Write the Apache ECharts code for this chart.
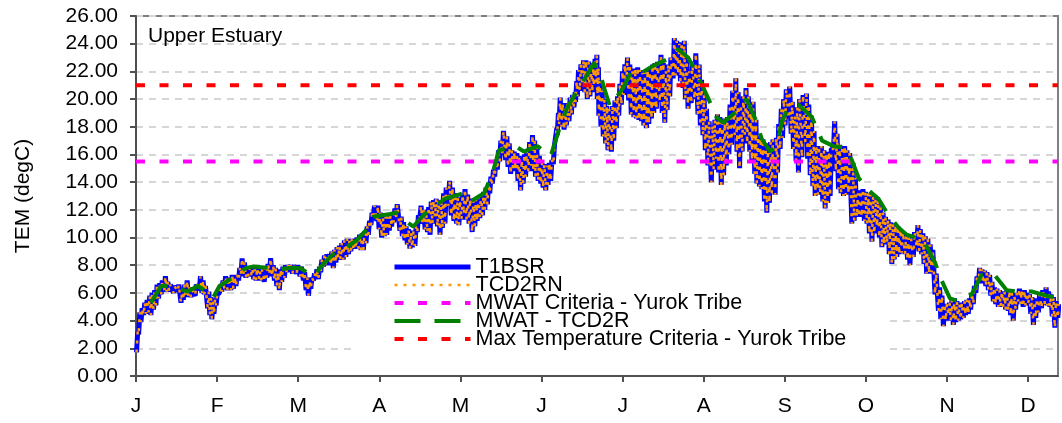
<!DOCTYPE html>
<html><head><meta charset="utf-8">
<script src="https://cdn.jsdelivr.net/npm/echarts@6/dist/echarts.min.js"></script>
<style>html,body{margin:0;padding:0;background:#fff}#c{width:1062px;height:423px}</style>
</head><body><div id="c"></div>
<script>
// x positions are day-of-record (day 0 = Jan 1); ticks every 31 days
const monthLabels = ['J','F','M','A','M','J','J','A','S','O','N','D'];
const yTicks = [0,2,4,6,8,10,12,14,16,18,20,22,24,26];

// sampled days with daily high / low of the hourly temperature band (degC)
const days = [0.2,1.0,1.9,2.9,3.8,4.8,5.7,6.7,7.6,8.6,9.6,10.8,11.7,12.7,14.3,15.9,17.2,18.1,19.1,20.0,21.0,22.6,24.2,25.2,26.1,27.4,28.2,29.0,29.8,30.6,31.9,32.8,33.8,35.0,36.3,37.2,38.2,39.2,40.1,41.0,42.0,43.0,44.0,45.0,45.9,46.9,47.8,49.0,50.0,51.0,52.0,52.9,53.8,54.8,55.7,56.7,57.6,58.6,
59.8,61.4,62.7,64.0,65.0,65.9,66.8,67.8,68.7,69.7,70.6,71.6,72.5,73.5,74.4,75.4,76.4,77.3,78.2,79.2,80.2,81.2,82.1,83.1,84.0,85.0,86.0,86.9,87.9,88.8,89.8,90.7,92.0,92.9,93.9,94.9,95.8,96.8,97.7,98.5,99.4,100.9,101.8,102.8,103.7,104.7,105.6,106.6,107.5,108.5,109.5,110.5,111.4,112.4,113.3,114.3,115.2,116.2,117.1,118.1,
119.4,120.5,121.5,122.5,123.4,124.4,125.3,126.3,127.3,128.5,129.5,130.4,131.4,132.4,133.3,134.3,135.2,136.2,137.1,138.1,139.0,140.0,141.3,142.2,143.2,144.1,145.1,146.0,147.0,148.0,148.9,150.0,151.1,151.9,152.7,153.7,154.7,155.6,156.6,157.5,158.5,159.5,160.4,161.0,161.7,162.6,163.6,164.5,165.5,166.4,167.4,168.0,168.7,169.6,170.6,171.5,172.5,173.5,174.4,175.0,175.7,176.3,176.9,177.7,178.6,
179.5,180.4,181.7,182.6,183.6,184.5,185.5,186.4,187.4,188.3,189.3,190.3,191.3,192.2,193.2,194.1,195.1,196.0,197.0,197.9,198.9,200.2,201.1,202.1,203.0,204.0,205.3,206.2,207.2,208.1,209.1,210.0,211.0,212.2,213.5,214.8,215.7,216.7,217.6,218.6,219.9,220.8,221.8,222.7,223.7,224.6,225.6,226.6,227.6,228.8,229.7,230.7,231.7,232.7,233.6,234.6,235.4,
236.5,237.3,238.3,239.2,240.2,241.1,242.1,243.0,244.3,245.2,246.2,247.1,248.1,249.4,250.4,251.3,252.3,253.2,254.5,255.8,256.7,257.7,258.7,259.6,260.6,261.5,262.5,263.4,264.4,265.3,266.6,267.5,268.5,269.5,270.4,271.3,272.3,273.6,274.5,275.5,276.4,277.4,278.4,279.4,280.3,281.3,282.2,283.2,284.1,285.1,286.0,287.0,287.9,288.9,289.8,290.8,291.7,
292.7,293.9,294.9,295.8,297.1,298.4,299.3,300.3,301.2,302.2,303.1,304.1,305.4,306.7,307.6,308.6,309.5,310.5,311.4,312.4,313.3,314.3,315.2,316.2,317.1,318.1,319.0,320.0,321.0,322.0,322.9,323.9,324.8,325.8,326.7,327.7,328.6,329.6,330.5,331.5,332.4,333.4,334.3,335.3,336.2,337.2,338.1,339.1,340.0,341.0,342.0,343.0,343.9,344.9,346.1,347.4,348.3,349.3,350.2,351.2,352.3];
const hi = [3.2,4.6,4.9,5.3,5.5,5.8,6.0,6.2,6.6,6.7,6.9,7.2,6.8,6.6,6.5,6.6,6.1,6.6,6.9,6.4,6.2,6.6,7.2,6.9,6.5,6.1,5.7,5.4,5.6,5.9,6.5,6.9,7.2,7.1,7.3,7.2,7.3,7.8,8.5,8.2,7.9,7.8,7.8,7.7,7.8,7.6,7.7,7.8,8.1,8.5,8.0,7.8,7.5,7.7,7.9,8.0,8.0,8.0,
8.0,8.0,7.9,7.5,7.1,6.9,7.1,7.4,7.7,7.9,8.4,8.7,8.8,8.8,9.0,9.1,9.3,9.4,9.6,9.8,9.9,9.9,9.9,9.9,10.0,10.2,10.3,10.4,10.8,11.2,11.8,12.3,12.3,11.8,11.4,11.5,11.5,11.6,11.8,12.1,12.4,11.5,11.1,10.8,10.6,10.4,10.5,10.8,11.6,12.3,12.0,11.7,12.2,12.6,12.7,12.8,12.7,12.6,13.2,13.6,
14.1,13.6,13.2,12.9,12.7,13.1,13.5,13.1,12.8,12.7,12.8,12.9,13.1,13.3,13.6,13.9,14.4,14.9,15.6,16.3,17.0,17.7,17.3,16.8,16.3,16.2,16.1,15.9,15.6,16.0,16.3,16.9,17.4,17.0,16.5,15.9,15.4,15.3,15.2,15.4,15.6,16.7,17.9,19.0,20.1,19.7,19.3,19.7,20.1,20.3,20.5,21.3,22.1,22.5,22.8,22.8,22.7,22.6,22.6,22.9,23.2,22.3,21.3,20.6,20.0,
19.5,19.3,19.5,19.9,20.2,21.1,22.0,22.5,23.0,22.5,22.0,22.2,22.3,22.1,21.9,22.0,22.1,22.3,22.5,22.6,22.7,23.2,22.6,22.0,22.5,23.0,24.4,24.2,24.0,24.1,24.2,23.1,22.0,22.7,23.3,22.5,21.4,20.3,19.3,18.4,18.1,18.5,18.9,18.7,18.6,18.6,18.7,19.6,20.6,21.5,20.5,19.6,20.2,20.8,20.2,19.7,19.8,
18.5,17.3,17.2,17.1,16.8,16.6,16.9,17.1,17.2,18.2,19.3,20.0,20.7,20.9,19.8,18.8,19.4,20.0,20.3,20.4,19.6,18.8,17.7,16.6,16.6,16.6,16.3,16.1,16.2,16.4,18.4,17.5,16.7,16.6,16.6,16.3,16.1,15.4,14.3,13.2,13.4,13.5,13.3,13.2,13.1,13.0,12.8,12.7,12.2,11.8,11.5,11.3,11.1,11.0,10.9,10.8,10.6,
10.4,10.1,10.0,9.9,10.4,10.9,10.6,10.3,10.1,9.9,9.5,9.1,7.4,6.4,5.8,5.2,5.2,5.3,5.5,5.6,5.4,5.2,5.3,5.4,5.5,5.6,6.0,6.5,7.2,7.8,7.7,7.6,7.5,7.3,6.8,6.4,6.3,6.2,6.1,6.1,6.2,6.2,6.0,5.8,6.0,6.3,6.2,6.2,6.0,5.9,5.7,5.4,5.6,5.9,6.2,6.4,6.1,5.9,5.7,5.4,5.2];
const lo = [1.7,3.0,3.9,4.4,4.5,4.6,4.4,4.8,5.1,5.6,5.9,6.1,6.1,6.1,6.0,6.1,5.3,5.5,5.7,5.8,5.7,5.8,6.2,6.0,5.9,4.9,4.4,4.1,4.5,5.1,6.0,6.1,6.3,6.2,6.2,6.3,6.5,6.9,7.3,7.2,7.1,7.2,7.3,7.0,6.9,7.0,6.9,6.8,7.1,7.4,7.2,6.9,6.5,6.2,6.8,7.1,7.5,7.7,
7.4,7.4,7.2,6.9,6.2,5.8,6.3,6.9,7.0,7.0,7.5,7.9,8.0,8.2,8.0,7.8,8.2,8.5,8.4,8.4,8.6,8.8,9.0,9.2,9.2,9.2,9.1,9.1,9.6,10.2,10.9,11.5,11.2,10.6,10.0,10.1,10.2,10.5,10.8,11.1,11.4,10.5,10.1,9.8,9.5,9.2,9.3,9.4,10.4,11.4,11.0,10.6,10.4,10.2,11.0,11.5,10.8,10.2,10.7,11.0,
12.3,11.6,11.2,11.0,10.9,11.3,11.7,11.3,11.0,10.4,10.8,11.2,11.4,11.6,12.0,12.4,13.2,13.9,14.4,14.9,15.5,16.0,15.6,15.1,14.6,14.8,14.9,14.1,13.4,13.9,14.4,14.8,15.2,14.8,14.4,14.1,13.9,13.6,13.4,13.8,14.1,15.3,16.6,17.4,18.2,18.0,17.8,18.1,18.4,18.9,19.4,19.8,20.2,20.6,21.0,20.5,20.0,20.2,20.5,20.9,21.2,20.0,18.8,18.0,17.3,
16.8,16.3,16.2,17.0,17.9,18.8,19.6,20.3,21.0,19.9,18.9,18.7,18.6,18.5,18.4,18.1,17.9,18.2,18.6,19.0,19.3,19.8,19.0,18.3,19.2,20.2,21.5,21.7,21.8,21.3,20.8,20.0,19.3,19.7,20.0,18.9,18.1,17.4,16.3,15.2,14.0,14.9,15.7,14.7,13.8,14.5,15.2,16.0,16.7,17.4,16.2,15.0,16.2,17.4,16.8,16.2,15.6,
14.6,13.9,13.7,13.5,12.6,11.8,12.5,13.2,13.1,14.7,16.4,17.2,18.1,18.6,17.5,16.4,15.5,14.7,15.8,16.9,15.7,14.5,13.7,13.0,13.1,13.2,12.6,12.1,12.5,13.0,16.4,14.8,13.5,13.2,13.0,13.1,13.2,11.0,11.2,11.5,11.5,11.5,11.2,11.0,10.3,9.7,10.3,10.8,10.0,9.3,9.5,9.6,8.8,8.1,8.4,8.6,8.8,
8.9,8.8,8.4,8.0,8.6,9.3,9.0,8.8,8.1,7.4,7.4,7.5,5.9,4.7,4.1,3.6,4.0,4.4,4.0,3.7,3.9,4.0,4.1,4.2,4.4,4.5,4.8,5.2,6.0,6.7,6.7,6.7,6.5,6.2,5.8,5.4,5.2,5.0,5.0,5.0,4.8,4.7,4.4,4.0,4.8,5.4,5.2,5.0,5.1,5.2,4.5,3.7,4.2,4.6,4.9,5.2,5.1,5.0,4.3,3.5,4.2];

// 7-day average (MWAT - TCD2R)
const mwatDays = [5.7,9.6,13.4,19.7,23.6,26.1,29.3,31.9,36.9,42.0,44.6,51.0,54.8,58.6,62.7,67.8,71.6,75.4,81.2,84.3,88.2,90.7,97.1,99.6,102.8,106.0,109.8,113.6,118.1,125.3,127.9,133.0,136.2,138.7,145.1,148.3,153.4,158.5,161.7,164.8,170.0,175.0,177.6,179.1,181.1,186.2,189.3,193.2,197.6,203.4,207.2,211.0,214.2,218.6,221.8,224.4,228.8,233.3,237.1,239.2,242.4,245.0,246.9,249.4,253.2,258.3,262.2,266.6,271.1,273.6,276.2,279.4,283.8,287.0,291.5,294.6,300.9,305.4,307.9,311.1,314.3,319.4,323.2,327.7,332.8,336.6,342.3,348.0,350.6];
const mwatVals = [5.3,6.5,6.5,6.1,6.5,6.2,5.6,6.5,7.1,7.8,7.9,7.8,7.7,7.8,7.8,7.2,8.1,8.8,9.4,9.8,10.6,11.5,11.7,11.8,11.2,10.8,11.6,12.2,12.8,13.2,12.6,13.2,14.6,16.3,16.6,16.2,16.6,15.9,17.8,19.4,21.0,22.6,21.7,20.7,19.5,20.8,22.0,21.9,22.4,22.9,23.6,23.0,21.9,20.1,18.7,18.3,19.0,20.0,18.4,17.1,16.2,16.7,18.4,19.4,19.6,18.7,17.0,16.6,16.5,15.6,14.3,13.5,12.8,11.8,10.7,10.2,9.8,8.2,6.9,5.6,5.4,5.9,7.3,7.4,6.2,6.1,6.1,5.8,5.7];

const mwatCriteria = 15.5;
const maxCriteria = 21.0;
const xStart = 0, xEnd = 352.4;

const band = [];
for (let i = 0; i < days.length; i++) {
  band.push([days[i], lo[i]]);
  band.push([days[i] + 0.45, hi[i]]);
}
const mwat = mwatDays.map((d, i) => [d, mwatVals[i]]);

const FONT = '"Liberation Sans", Arial, sans-serif';
const chart = echarts.init(document.getElementById('c'), null, {renderer: 'canvas'});
chart.setOption({
  animation: false,
  backgroundColor: '#fff',
  title: {
    text: 'Upper Estuary', left: 143, top: 21,
    textStyle: {fontFamily: FONT, fontSize: 21, fontWeight: 'normal', color: '#000'}
  },
  grid: {left: 136, right: 4, top: 16, bottom: 47, show: true, borderColor: '#808080', borderWidth: 2, backgroundColor: 'transparent'},
  legend: {
    orient: 'vertical', left: 353, top: 256,
    padding: [0, 40, 12, 39],
    backgroundColor: '#fff',
    itemWidth: 76, itemHeight: 10, itemGap: -4,
    itemStyle: {opacity: 0},
    lineStyle: {width: 'inherit'},
    textStyle: {fontFamily: FONT, fontSize: 21.5, color: '#000'},
    data: ['T1BSR', 'TCD2RN', 'MWAT Criteria - Yurok Tribe', 'MWAT - TCD2R', 'Max Temperature Criteria - Yurok Tribe']
  },
  xAxis: {
    type: 'value', min: xStart, max: xEnd, interval: 31,
    axisLine: {show: true, lineStyle: {color: '#505050', width: 2}},
    axisTick: {show: true, length: 6, lineStyle: {color: '#505050', width: 2}},
    splitLine: {show: false},
    axisLabel: {
      showMaxLabel: false, margin: 20,
      fontFamily: FONT, fontSize: 21, color: '#000',
      formatter: v => monthLabels[Math.round(v / 31)] || ''
    }
  },
  yAxis: {
    type: 'value', min: yTicks[0], max: yTicks[yTicks.length - 1], interval: 2,
    name: 'TEM (degC)', nameLocation: 'middle', nameGap: 102, nameRotate: 90,
    nameTextStyle: {fontFamily: FONT, fontSize: 21, color: '#000'},
    axisLine: {show: true, lineStyle: {color: '#505050', width: 2}},
    axisTick: {show: true, length: 6, lineStyle: {color: '#505050', width: 2}},
    splitLine: {show: true, lineStyle: {color: '#d6d6d6', width: 2, type: [7, 6]}},
    axisLabel: {margin: 18, fontFamily: FONT, fontSize: 21, color: '#000', formatter: v => v.toFixed(2)}
  },
  series: [
    {name: 'T1BSR', type: 'line', data: band, symbol: 'none', z: 2,
     lineStyle: {color: '#0000ff', width: 5}, itemStyle: {color: '#0000ff'}},
    {name: 'TCD2RN', type: 'line', data: band, symbol: 'none', z: 3,
     lineStyle: {color: '#ff9900', width: 2.5, type: [3, 6]}, itemStyle: {color: '#ff9900'}},
    {name: 'MWAT Criteria - Yurok Tribe', type: 'line', data: [[xStart, mwatCriteria], [xEnd, mwatCriteria]], symbol: 'none', z: 4,
     lineStyle: {color: '#ff00ff', width: 4, type: [9, 14.5]}, itemStyle: {color: '#ff00ff'}},
    {name: 'MWAT - TCD2R', type: 'line', data: mwat, symbol: 'none', z: 5,
     lineStyle: {color: '#008000', width: 4, type: [26, 14]}, itemStyle: {color: '#008000'}},
    {name: 'Max Temperature Criteria - Yurok Tribe', type: 'line', data: [[xStart, maxCriteria], [xEnd, maxCriteria]], symbol: 'none', z: 6,
     lineStyle: {color: '#ff0000', width: 4, type: [9, 14.5]}, itemStyle: {color: '#ff0000'}}
  ]
});
</script></body></html>
